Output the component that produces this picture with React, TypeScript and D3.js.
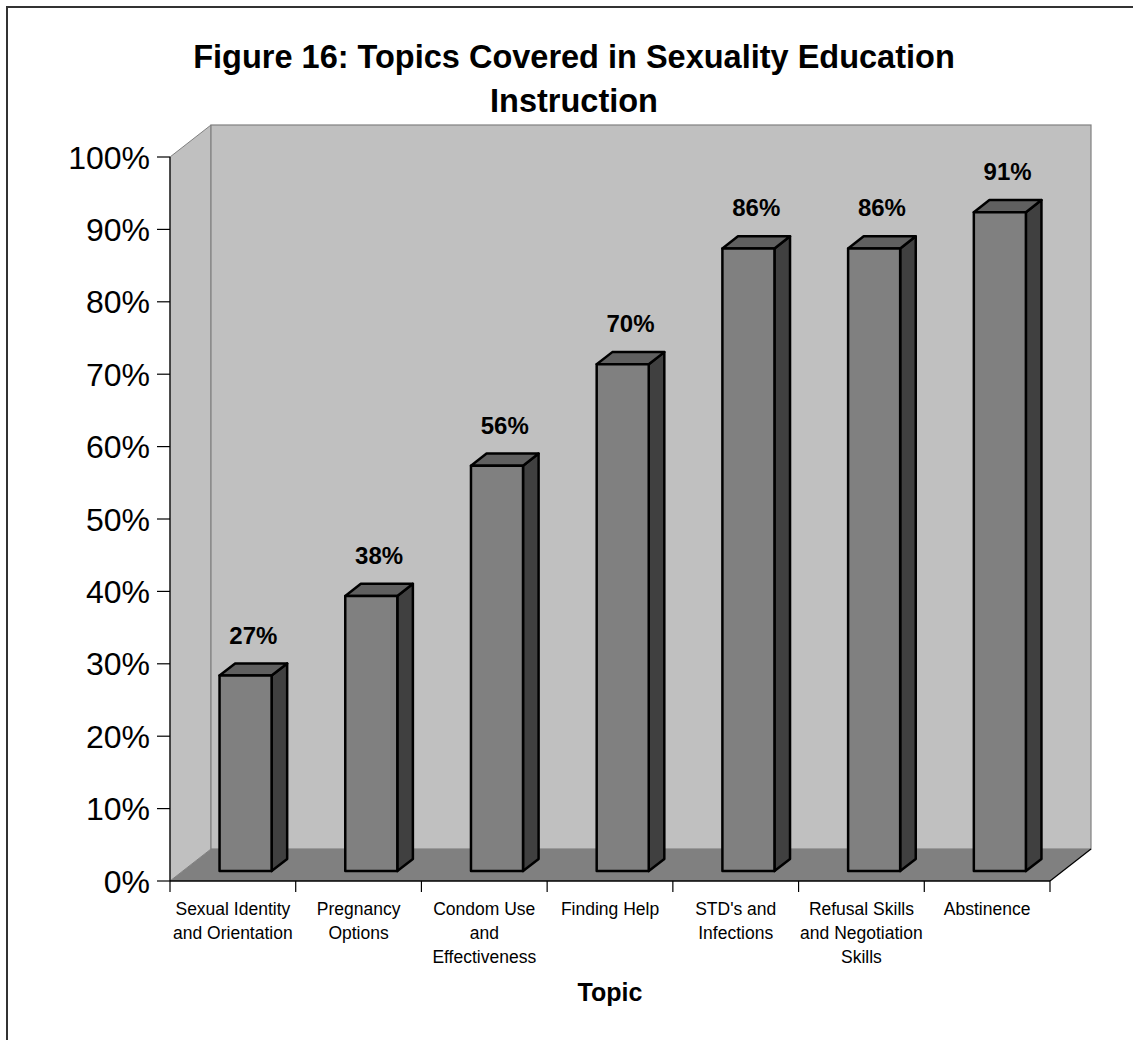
import React from "react";
import * as d3 from "d3";

// Survey topics and the share of respondents whose instruction covered each
const categories = [
  "Sexual Identity and Orientation",
  "Pregnancy Options",
  "Condom Use and Effectiveness",
  "Finding Help",
  "STD's and Infections",
  "Refusal Skills and Negotiation Skills",
  "Abstinence",
];
const categoryLines = [
  ["Sexual Identity", "and Orientation"],
  ["Pregnancy", "Options"],
  ["Condom Use", "and", "Effectiveness"],
  ["Finding Help"],
  ["STD's and", "Infections"],
  ["Refusal Skills", "and Negotiation", "Skills"],
  ["Abstinence"],
];
const values = [27, 38, 56, 70, 86, 86, 91];
const yTicks = [0, 10, 20, 30, 40, 50, 60, 70, 80, 90, 100];

const titleLines = ["Figure 16: Topics Covered in Sexuality Education", "Instruction"];
const axisTitle = "Topic";

const W = 1133;
const H = 1040;
const FONT = "'Liberation Sans', Arial, Helvetica, sans-serif";

// Oblique depth of the 3D box
const DX = 41;
const DY = -32;
const Z0 = 0.31; // front face of columns
const Z1 = 0.69; // back face of columns

export default function App() {
  const left = 170;
  const right = 1050;
  const x = d3
    .scaleBand<string>()
    .domain(categories)
    .range([left, right])
    .paddingInner(0.586)
    .paddingOuter(0.293);
  const xCat = d3.scaleBand<string>().domain(categories).range([left, right]);
  const y = d3.scaleLinear().domain([0, 100]).range([881, 157]);

  const y0 = y(0);
  const yTop = y(100);
  const bw = x.bandwidth();
  const ddx = DX * (Z1 - Z0);
  const ddy = DY * (Z1 - Z0);

  const pts = (p: number[][]) => p.map((q) => q.join(",")).join(" ");

  const boundaries = d3.range(categories.length + 1).map((i) => left + i * xCat.step());

  return (
    <svg
      width={W}
      height={H}
      style={{ position: "absolute", left: 0, top: 0, background: "#fff" }}
      fontFamily={FONT}
    >
      {/* chart frame */}
      <rect x={7} y={7} width={1200} height={1200} fill="#fff" stroke="#333" strokeWidth={2} />

      {/* title */}
      <text textAnchor="middle" fontWeight="bold" fontSize={32.5} fill="#000">
        <tspan x={574} y={68}>{titleLines[0]}</tspan>
        <tspan x={574} y={111.5}>{titleLines[1]}</tspan>
      </text>

      {/* left wall */}
      <polygon
        points={pts([
          [left, yTop],
          [left + DX, yTop + DY],
          [left + DX, y0 + DY],
          [left, y0],
        ])}
        fill="#c0c0c0"
        stroke="#808080"
        strokeWidth={1}
      />
      {/* back wall */}
      <rect
        x={left + DX}
        y={yTop + DY}
        width={right - left}
        height={y0 - yTop}
        fill="#c0c0c0"
        stroke="#808080"
        strokeWidth={1.2}
      />
      {/* floor */}
      <polygon
        points={pts([
          [left, y0],
          [right, y0],
          [right + DX, y0 + DY],
          [left + DX, y0 + DY],
        ])}
        fill="#808080"
      />
      <line x1={right} y1={y0} x2={right + DX} y2={y0 + DY} stroke="#000" strokeWidth={1.2} />

      {/* value axis */}
      <line x1={left} y1={yTop} x2={left} y2={y0} stroke="#000" strokeWidth={1.2} />
      {yTicks.map((t) => (
        <g key={t}>
          <line x1={157} x2={left} y1={y(t)} y2={y(t)} stroke="#000" strokeWidth={1.2} />
          <text x={150} y={y(t)} dy="0.36em" textAnchor="end" fontSize={32} fill="#000">
            {t}%
          </text>
        </g>
      ))}

      {/* category axis */}
      <line x1={left} y1={y0} x2={right} y2={y0} stroke="#000" strokeWidth={1.5} />
      {boundaries.map((bx, i) => (
        <line key={i} x1={bx} x2={bx} y1={y0} y2={y0 + 11} stroke="#000" strokeWidth={1.2} />
      ))}
      {categories.map((c, i) => (
        <text
          key={c}
          textAnchor="middle"
          fontSize={17.5}
          fill="#000"
        >
          {categoryLines[i].map((ln, j) => (
            <tspan key={j} x={(xCat(c) as number) + xCat.bandwidth() / 2} y={915 + j * 24}>
              {ln}
            </tspan>
          ))}
        </text>
      ))}

      {/* columns */}
      {categories.map((c, i) => {
        const v = values[i];
        const fx0 = (x(c) as number) + DX * Z0;
        const fx1 = fx0 + bw;
        const ft = y(v) + DY * Z0;
        const fb = y0 + DY * Z0;
        return (
          <g key={c} stroke="#000" strokeWidth={2.5} strokeLinejoin="round">
            <polygon
              points={pts([
                [fx1, ft],
                [fx1 + ddx, ft + ddy],
                [fx1 + ddx, fb + ddy],
                [fx1, fb],
              ])}
              fill="#404040"
            />
            <polygon
              points={pts([
                [fx0, ft],
                [fx1, ft],
                [fx1 + ddx, ft + ddy],
                [fx0 + ddx, ft + ddy],
              ])}
              fill="#606060"
            />
            <rect x={fx0} y={ft} width={bw} height={fb - ft} fill="#808080" />
          </g>
        );
      })}

      {/* data labels */}
      {categories.map((c, i) => {
        const v = values[i];
        const cx = (x(c) as number) + bw / 2 + DX * 0.5;
        const cy = y(v) + DY * 0.5 - 26;
        return (
          <text key={c} x={cx} y={cy} textAnchor="middle" fontWeight="bold" fontSize={24} fill="#000">
            {v}%
          </text>
        );
      })}

      {/* axis title */}
      <text x={(left + right) / 2} y={1001} textAnchor="middle" fontWeight="bold" fontSize={25} fill="#000">
        {axisTitle}
      </text>
    </svg>
  );
}
